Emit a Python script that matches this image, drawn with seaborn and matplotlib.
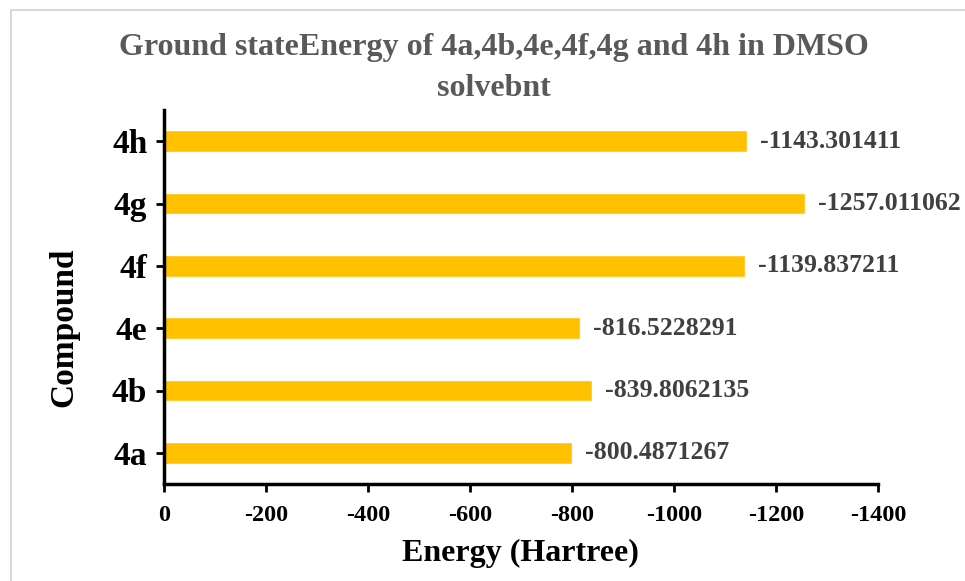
import matplotlib
matplotlib.use("Agg")
import matplotlib.pyplot as plt
from matplotlib.lines import Line2D
import seaborn as sns
import pandas as pd

# Ground-state energies (Hartree) of each compound in DMSO
compounds = ["4h", "4g", "4f", "4e", "4b", "4a"]
energies = [-1143.301411, -1257.011062, -1139.837211, -816.5228291, -839.8062135, -800.4871267]
x_ticks = [0, -200, -400, -600, -800, -1000, -1200, -1400]

df = pd.DataFrame({"Compound": compounds, "Energy": energies})

sns.set_theme(style="white")
plt.rcParams["font.family"] = ["Liberation Serif", "DejaVu Serif"]
plt.rcParams["font.weight"] = "bold"

fig = plt.figure(figsize=(9.65, 5.81), dpi=100)
ax = fig.add_axes([164 / 965, 1 - 484 / 581, (878 - 164) / 965, (484 - 110) / 581])

sns.barplot(data=df, x="Energy", y="Compound", orient="h", color="#FFC000",
            saturation=1, width=0.35, ax=ax)

ax.set_xlim(0, -1400)
ax.set_xticks(x_ticks)
ax.set_xticklabels([str(t) for t in x_ticks], fontsize=17.5, fontweight="bold", color="black")
for lab in ax.get_yticklabels():
    lab.set_fontsize(24)
    lab.set_fontweight("bold")
    lab.set_color("black")

ax.bar_label(ax.containers[0], labels=[f"{v:.10g}" for v in energies], padding=9,
             fontsize=18.5, fontweight="bold", color="#404040")

for side in ("top", "right"):
    ax.spines[side].set_visible(False)
for side in ("left", "bottom"):
    ax.spines[side].set_color("black")
    ax.spines[side].set_linewidth(2.5)
ax.tick_params(axis="both", which="major", direction="out", length=6, width=2,
               color="black", left=True, bottom=True)
ax.tick_params(axis="x", pad=9)
ax.tick_params(axis="y", pad=6)

ax.set_xlabel("Energy (Hartree)", fontsize=23, fontweight="bold", color="black")
ax.set_ylabel("Compound", fontsize=24, fontweight="bold", color="black")
ax.xaxis.set_label_coords((520 - 164) / (878 - 164), -(553 - 484) / (484 - 110))
ax.xaxis.label.set_va("center")
ax.yaxis.set_label_coords(-(164 - 64) / (878 - 164), (484 - 327) / (484 - 110))
ax.yaxis.label.set_va("center")

fig.text(494 / 965, 1 - 68 / 581, "Ground stateEnergy of 4a,4b,4e,4f,4g and 4h in DMSO\nsolvebnt",
         ha="center", va="center", fontsize=23, fontweight="bold", color="#595959",
         linespacing=1.55)

# Chart-area frame along the top and left edges
fig.add_artist(Line2D([11 / 965, 11 / 965], [0, 1 - 10 / 581], transform=fig.transFigure,
                      color="#D9D9D9", linewidth=1.5))
fig.add_artist(Line2D([11 / 965, 1], [1 - 10 / 581, 1 - 10 / 581], transform=fig.transFigure,
                      color="#D9D9D9", linewidth=1.5))

fig.savefig("out.png", dpi=100, facecolor="white")
